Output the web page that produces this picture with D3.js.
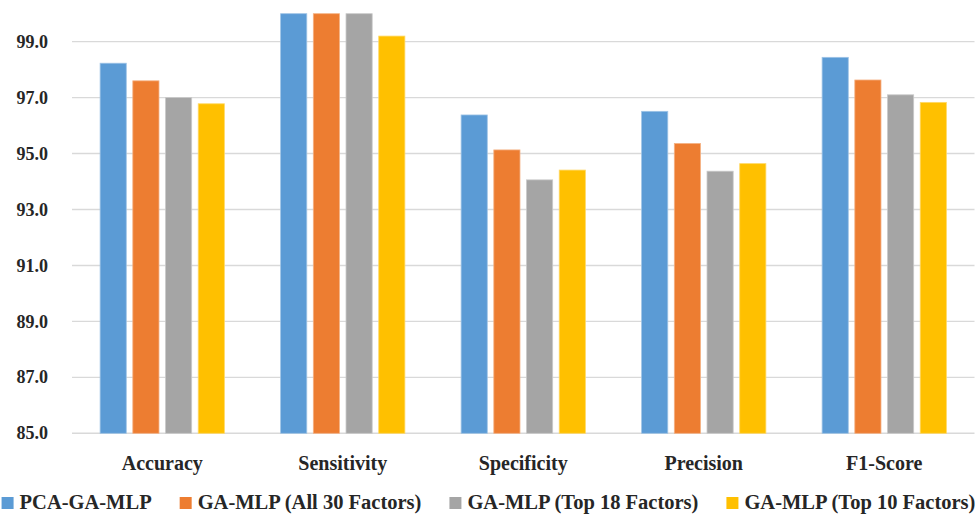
<!DOCTYPE html>
<html>
<head>
<meta charset="utf-8">
<script src="https://cdn.jsdelivr.net/npm/d3@7"></script>
</head>
<body style="margin:0">
<svg id="chart" width="975" height="516" style="font-family:'Liberation Serif';font-weight:bold"></svg>
<script>
// Metrics shown along the x axis
const categories = ["Accuracy", "Sensitivity", "Specificity", "Precision", "F1-Score"];

// Model variants (one bar per variant in each group)
const seriesNames = [
  "PCA-GA-MLP",
  "GA-MLP (All 30 Factors)",
  "GA-MLP (Top 18 Factors)",
  "GA-MLP (Top 10 Factors)"
];

// Scores (%) per model, in the order of `categories`
const pcaGaMlp   = [98.23, 100.0, 96.38, 96.51, 98.44];
const gaMlpAll30 = [97.60, 100.0, 95.13, 95.36, 97.63];
const gaMlpTop18 = [97.00, 100.0, 94.06, 94.37, 97.10];
const gaMlpTop10 = [96.78, 99.20, 94.41, 94.64, 96.83];

const yTicks = [85, 87, 89, 91, 93, 95, 97, 99];

const colors = ["#5B9BD5", "#ED7D31", "#A5A5A5", "#FFC000"];
const strokes = ["#9DC3E6", "#F4B183", "#C9C9C9", "#FFD966"];

const seriesValues = [pcaGaMlp, gaMlpAll30, gaMlpTop18, gaMlpTop10];

const INK = "#262626";

const svg = d3.select("#chart");
const plot = { left: 72, right: 974.5, top: 13.7, bottom: 433.3 };

const y = d3.scaleLinear().domain([85, 100]).range([plot.bottom, plot.top]);
const x0 = d3.scaleBand().domain(categories).range([plot.left, plot.right]).padding(0);
const x1 = d3.scaleBand().domain(d3.range(seriesNames.length))
  .range([0, x0.bandwidth()]).paddingInner(0.2).paddingOuter(0.86);

function styleText(sel, size) {
  sel.attr("style", `font-family:'Liberation Serif';font-weight:bold;font-size:${size}px`)
    .attr("fill", INK);
}

// Horizontal gridlines
svg.append("g")
  .selectAll("line")
  .data(yTicks)
  .join("line")
  .attr("x1", plot.left)
  .attr("x2", plot.right)
  .attr("y1", d => y(d))
  .attr("y2", d => y(d))
  .attr("stroke", "#d9d9d9")
  .attr("stroke-width", 1.4);

// Y axis labels
const yAxisG = svg.append("g").attr("transform", "translate(48,0)");
yAxisG.selectAll("text")
  .data(yTicks)
  .join("text")
  .attr("x", 0)
  .attr("y", d => y(d))
  .attr("dy", "0.34em")
  .attr("text-anchor", "end")
  .text(d3.format(".1f"))
  .call(styleText, 18);

// Bars
const groups = svg.append("g")
  .selectAll("g")
  .data(categories)
  .join("g")
  .attr("transform", c => `translate(${x0(c)},0)`);

groups.selectAll("rect")
  .data((c, ci) => seriesValues.map((vals, si) => ({ si, v: vals[ci] })))
  .join("rect")
  .attr("x", d => x1(d.si))
  .attr("width", x1.bandwidth())
  .attr("y", d => y(d.v))
  .attr("height", d => y(85) - y(d.v))
  .attr("fill", d => colors[d.si])
  .attr("stroke", d => strokes[d.si])
  .attr("stroke-width", 0.8);

// Category labels
svg.append("g")
  .selectAll("text")
  .data(categories)
  .join("text")
  .attr("x", c => x0(c) + x0.bandwidth() / 2)
  .attr("y", 470)
  .attr("text-anchor", "middle")
  .text(c => c)
  .call(styleText, 20);

// Legend, centred beneath the chart
const legend = svg.append("g").attr("transform", "translate(0,509)");
const items = legend.selectAll("g")
  .data(seriesNames)
  .join("g");
items.append("rect")
  .attr("width", 12)
  .attr("height", 12)
  .attr("y", -12)
  .attr("fill", (d, i) => colors[i]);
items.append("text")
  .attr("x", 18)
  .attr("y", 0)
  .text(d => d)
  .call(styleText, 20.5);

const gap = 28;
let cursor = 0;
const offsets = [];
items.each(function () {
  offsets.push(cursor);
  const w = d3.select(this).select("text").node().getComputedTextLength();
  cursor += 18 + w + gap;
});
const total = cursor - gap;
const startX = (975 - total) / 2 + 1;
items.attr("transform", (d, i) => `translate(${startX + offsets[i]},0)`);
</script>
</body>
</html>
